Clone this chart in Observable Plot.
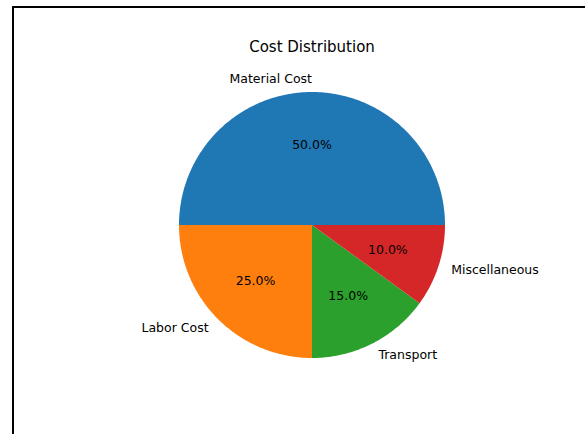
<!DOCTYPE html>
<html>
<head>
<meta charset="utf-8">
<script src="https://cdn.jsdelivr.net/npm/d3@7"></script>
<script src="https://cdn.jsdelivr.net/npm/@observablehq/plot@0.6"></script>
<style>
  html, body { margin: 0; padding: 0; background: #fff; width: 585px; height: 434px; overflow: hidden; }
  #wrap { position: relative; width: 585px; height: 434px; }
  #frame { position: absolute; left: 12px; top: 6px; width: 700px; height: 600px;
           border-left: 2px solid #000; border-top: 2px solid #000; pointer-events: none; }
  #chart { position: absolute; left: 0; top: 0; }
</style>
</head>
<body>
<div id="wrap"><div id="chart"></div><div id="frame"></div></div>
<script>
const title = "Cost Distribution";
const categories = ["Material Cost", "Labor Cost", "Transport", "Miscellaneous"];
const values = [50, 25, 15, 10];
const colors = ["#1f77b4", "#ff7f0e", "#2ca02c", "#d62728"];

const W = 585, H = 434;
const cx = 311.5, cy = 224.5, R = 133; // pixel geometry of pie

const total = d3.sum(values);
// matplotlib style: start at 0 deg (east), counter-clockwise
let acc = 0;
const slices = categories.map((c, i) => {
  const a0 = acc / total * 2 * Math.PI;
  acc += values[i];
  const a1 = acc / total * 2 * Math.PI;
  return {cat: c, value: values[i], a0, a1, mid: (a0 + a1) / 2, color: colors[i]};
});

// polygon outline of each wedge (in unit radius coordinates)
const wedgePts = [];
slices.forEach(s => {
  wedgePts.push({cat: s.cat, x: 0, y: 0});
  const n = Math.max(4, Math.ceil((s.a1 - s.a0) / (Math.PI / 180)));
  for (let k = 0; k <= n; k++) {
    const a = s.a0 + (s.a1 - s.a0) * k / n;
    wedgePts.push({cat: s.cat, x: Math.cos(a), y: Math.sin(a)});
  }
  wedgePts.push({cat: s.cat, x: 0, y: 0});
});

const labels = slices.map(s => {
  const x = 1.1 * Math.cos(s.mid), y = 1.1 * Math.sin(s.mid);
  return {text: s.cat, x, y, anchor: x > 1e-9 ? "start" : "end"};
});
const pcts = slices.map(s => ({
  text: (s.value / total * 100).toFixed(1) + "%",
  x: 0.6 * Math.cos(s.mid), y: 0.6 * Math.sin(s.mid)
}));

const chart = Plot.plot({
  width: W, height: H,
  margin: 0,
  style: {fontFamily: "DejaVu Sans", background: "transparent"},
  x: {domain: [-cx / R, (W - cx) / R], axis: null},
  y: {domain: [-(H - cy) / R, cy / R], axis: null},
  color: {domain: categories, range: colors},
  marks: [
    Plot.line(wedgePts, {x: "x", y: "y", z: "cat", fill: "cat", stroke: "none", curve: "linear"}),
    Plot.text(labels.filter(d => d.anchor === "start"), {x: "x", y: "y", text: "text", textAnchor: "start", fontSize: 12.5, fill: "#000"}),
    Plot.text(labels.filter(d => d.anchor === "end"), {x: "x", y: "y", text: "text", textAnchor: "end", fontSize: 12.5, fill: "#000"}),
    Plot.text(pcts, {x: "x", y: "y", text: "text", fontSize: 12.5, fill: "#000"}),
    Plot.text([title], {x: () => 0, frameAnchor: "top", dy: 47, lineAnchor: "middle", text: d => d, fontSize: 15, fill: "#000"})
  ]
});
document.getElementById("chart").appendChild(chart);
</script>
</body>
</html>
